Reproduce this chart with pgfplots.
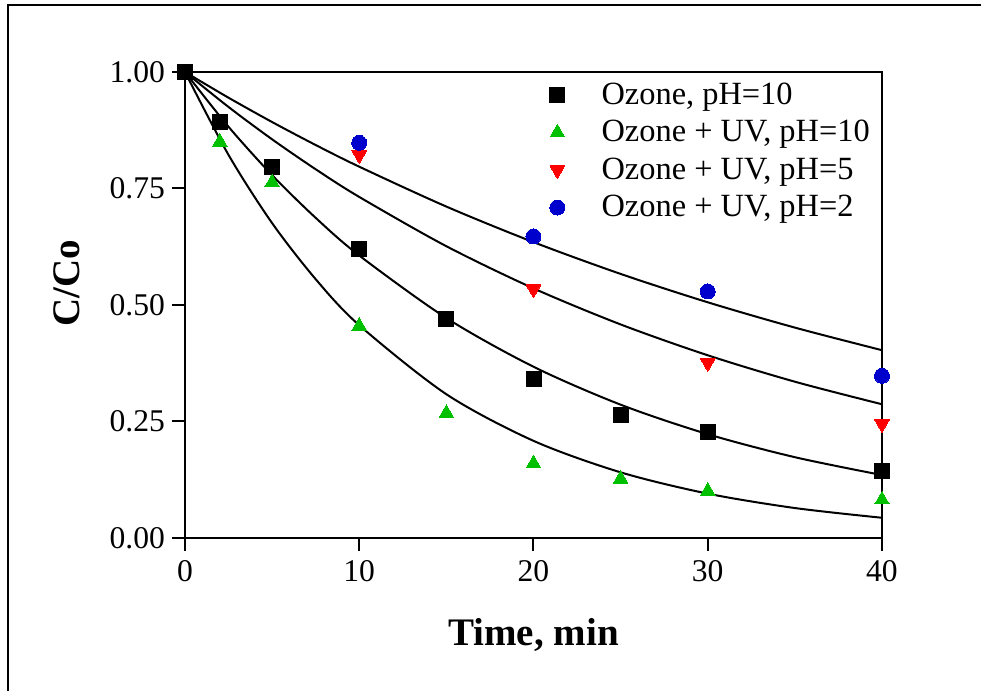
\documentclass[border=0pt]{standalone}
\usepackage{fontspec}
\setmainfont{Liberation Serif}
\usepackage{pgfplots}
\pgfplotsset{compat=1.18}
\definecolor{mygreen}{RGB}{0,192,0}
\definecolor{myred}{RGB}{255,0,0}
\definecolor{myblue}{RGB}{0,0,204}
\pgfplotsset{mylegimg/.style={legend image code/.code={\draw[##1] plot coordinates {(0.3cm,0cm)}; \path (0cm,0cm) (1.0cm,0cm);}}}
\begin{document}
\begin{tikzpicture}
\begin{axis}[
  name=ax,
  at={(0,0)}, anchor=south west,
  scale only axis,
  width=348.5pt, height=233pt,
  xmin=0, xmax=40, ymin=0, ymax=1,
  xtick={0,10,20,30,40},
  ytick={0,0.25,0.5,0.75,1},
  yticklabel style={/pgf/number format/fixed,/pgf/number format/fixed zerofill,/pgf/number format/precision=2},
  /pgf/number format/assume math mode=true,
  tick align=outside,
  major tick length=6.5pt,
  xtick pos=bottom, ytick pos=left,
  axis line style={line width=1pt},
  every tick/.style={black, line width=1pt},
  tick label style={font=\fontsize{15.8}{19}\selectfont},
  xticklabel style={yshift=-1pt},
  label style={font=\fontsize{19.5}{23}\selectfont\bfseries},
  xlabel={Time, min},
  ylabel={C/Co},
  xlabel style={at={(axis description cs:0.5,-0.208)}, anchor=center},
  ylabel style={at={(axis description cs:-0.169,0.547)}, anchor=center, rotate=0},
  clip=false,
  legend cell align=left,
  legend style={draw=none, fill=none, at={(axis description cs:0.500,0.995)}, anchor=north west,
     font=\fontsize{16.2}{19}\selectfont, row sep=2.5pt},
]
% fitted curves
\addplot[black, line width=1pt, smooth, forget plot] coordinates {
(0,1) (2.5,0.9448) (5,0.8926) (7.5,0.8433) (10,0.7968) (15,0.7112) (20,0.6349) (25,0.5667) (30,0.5058) (35,0.4515) (40,0.4030)};
\addplot[black, line width=1pt, smooth, forget plot] coordinates {
(0,1) (2.5,0.9249) (5,0.8555) (7.5,0.7913) (10,0.7319) (15,0.6261) (20,0.5357) (25,0.4583) (30,0.3921) (35,0.3354) (40,0.2870)};
\addplot[black, line width=1pt, smooth, forget plot] coordinates {
(0,1) (2.5,0.8824) (5,0.7786) (7.5,0.6870) (10,0.6062) (15,0.4720) (20,0.3675) (25,0.2861) (30,0.2228) (35,0.1734) (40,0.1351)};
\addplot[black, line width=1pt, smooth, forget plot] coordinates {
(0,1) (2.5,0.8220) (5,0.6757) (7.5,0.5554) (10,0.4566) (15,0.3085) (20,0.2085) (25,0.1409) (30,0.0952) (35,0.0643) (40,0.0434)};
% data
\addplot[only marks, mylegimg, mark=square*, mark size=3.75pt, black, mark options={fill=black, draw=black}] coordinates {
(0,1.0) (2,0.893) (5,0.797) (10,0.620) (15,0.470) (20,0.342) (25,0.264) (30,0.227) (40,0.144)};
\addlegendentry{Ozone, pH=10}
\addplot[only marks, mylegimg, mark=triangle*, mark size=4.2pt, mygreen, mark options={fill=mygreen, draw=mygreen, line width=0pt}] coordinates {
(2,0.850) (5,0.763) (10,0.455) (15,0.268) (20,0.160) (25,0.127) (30,0.101) (40,0.082)};
\addlegendentry{Ozone + UV, pH=10}
\addplot[only marks, mylegimg, mark=triangle*, mark size=4.2pt, myred, mark options={fill=myred, draw=myred, line width=0pt, rotate=180}] coordinates {
(10,0.822) (20,0.534) (30,0.376) (40,0.245)};
\addlegendentry{Ozone + UV, pH=5}
\addplot[only marks, mylegimg, mark=*, mark size=3.75pt, myblue, mark options={fill=myblue, draw=myblue, line width=0pt}] coordinates {
(10,0.848) (20,0.647) (30,0.529) (40,0.348)};
\addlegendentry{Ozone + UV, pH=2}
\end{axis}
\draw[line width=1pt] ([shift={(-88.5pt,-90pt)}]ax.south west) -- ([shift={(-88.5pt,266.5pt)}]ax.south west) -- ([shift={(410pt,266.5pt)}]ax.south west);
\pgfresetboundingbox
\useasboundingbox ([shift={(-92.5pt,-76.5pt)}]ax.south west) rectangle ([shift={(398pt,269pt)}]ax.south west);
\end{tikzpicture}
\end{document}
